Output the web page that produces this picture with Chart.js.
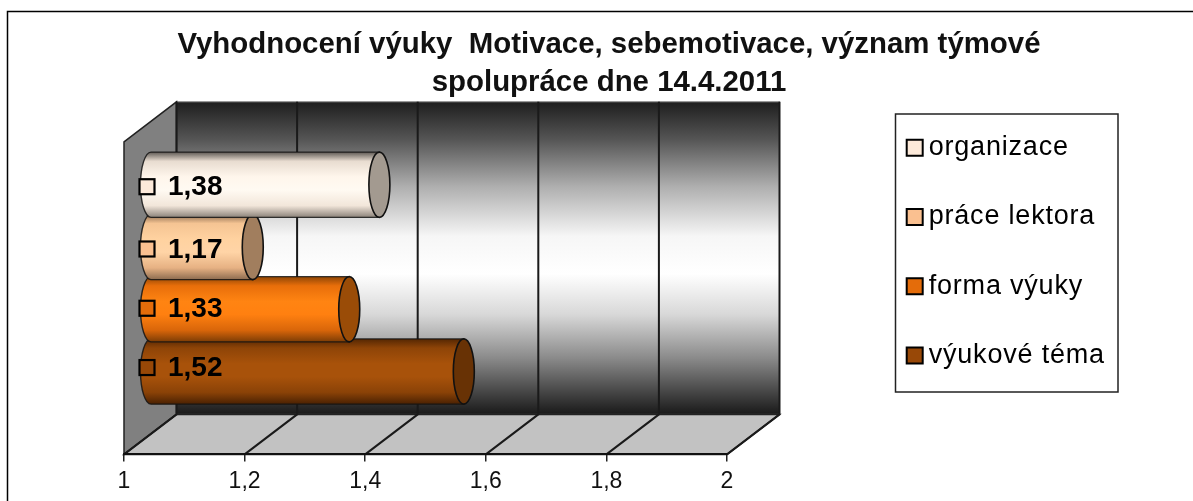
<!DOCTYPE html>
<html>
<head>
<meta charset="utf-8">
<style>
  html, body { margin: 0; padding: 0; background: #fff; }
  #wrap { width: 1193px; height: 501px; }
  #chart { filter: blur(0.45px); }
</style>
<script src="https://cdn.jsdelivr.net/npm/chart.js@4/dist/chart.umd.min.js"></script>
</head>
<body>
<div id="wrap"><canvas id="chart"></canvas></div>
<script>
const titleLines = ['Vyhodnocení výuky  Motivace, sebemotivace, význam týmové', 'spolupráce dne 14.4.2011'];
const categories = [''];
const seriesNames = ['organizace', 'práce lektora', 'forma výuky', 'výukové téma'];
const seriesValues = [1.38, 1.17, 1.33, 1.52];
const seriesColors = ['#fdeada', '#fac090', '#e46c0a', '#984807'];
const tickLabels = ['1', '1,2', '1,4', '1,6', '1,8', '2'];

// colours along the cylinder, top to bottom
const cylinderStops = [
  ['#5f5a55', '#e8dcd0', '#fff6ec', '#fffaf2', '#f2e6da', '#8c837a'],
  ['#8a6a4e', '#f5c493', '#ffd2a0', '#ffd4a6', '#e6b183', '#8d6c50'],
  ['#8f4606', '#e86e0a', '#ff8412', '#ff8010', '#d9660a', '#7c3c05'],
  ['#552703', '#8e4407', '#a8520a', '#a8520a', '#8a4207', '#4a2102']
];
const capColors = ['#a39a90', '#a17e5e', '#9a4c07', '#683205'];

// depth of the fake 3d box, and how far the bars sit inside it
const depthX = 52.5;
const depthY = -40;
const capRadius = 10.5;

function cylinderGradient(ctx, top, bottom, stops) {
  const g = ctx.createLinearGradient(0, top, 0, bottom);
  const at = [0, 0.14, 0.38, 0.58, 0.82, 1];
  stops.forEach((c, i) => g.addColorStop(at[i], c));
  return g;
}

// walls and floor, gridlines come from the x scale ticks
const boxPlugin = {
  id: 'box3d',
  afterLayout(chart) {
    // legend and title sit outside the plot, chartArea keeps the padding
    const lg = chart.legend;
    lg.left = 871.9; lg.right = 1118; lg.top = 91.9; lg.bottom = 480;
    chart.titleBlock.left = 25;
    chart.titleBlock.right = 1193;
    // the reference legend text is set a bit wider
    if (!lg.spacedDraw) {
      const draw = lg.draw;
      lg.spacedDraw = true;
      lg.draw = function (area) {
        chart.ctx.letterSpacing = '0.8px';
        draw.call(lg, area);
        chart.ctx.letterSpacing = '0px';
      };
    }
  },
  beforeDraw(chart) {
    const { ctx, chartArea: a } = chart;
    ctx.save();
    ctx.fillStyle = '#fff';
    ctx.fillRect(0, 0, chart.width, chart.height);

    // outer frame, only left and top are in the picture
    ctx.strokeStyle = '#000';
    ctx.lineWidth = 1.5;
    ctx.beginPath();
    ctx.moveTo(7.5, chart.height);
    ctx.lineTo(7.5, 11.5);
    ctx.lineTo(chart.width, 11.5);
    ctx.stroke();

    // legend box
    ctx.fillStyle = '#fff';
    ctx.lineWidth = 1.5;
    ctx.strokeStyle = '#222';
    ctx.fillRect(895.5, 114, 222.5, 278);
    ctx.strokeRect(895.5, 114, 222.5, 278);

    const backL = a.left + depthX, backR = a.right + depthX;
    const backT = a.top + depthY, backB = a.bottom + depthY;

    // back wall
    const wall = ctx.createLinearGradient(0, backT, 0, backB);
    wall.addColorStop(0, '#1e1e1e');
    wall.addColorStop(0.12, '#555555');
    wall.addColorStop(0.27, '#aeaeae');
    wall.addColorStop(0.43, '#f6f6f6');
    wall.addColorStop(0.55, '#ffffff');
    wall.addColorStop(0.68, '#d8d8d8');
    wall.addColorStop(0.82, '#8a8a8a');
    wall.addColorStop(1, '#191919');
    ctx.fillStyle = wall;
    ctx.fillRect(backL, backT, backR - backL, backB - backT);
    ctx.strokeStyle = '#777';
    ctx.lineWidth = 1;
    ctx.strokeRect(backL, backT, backR - backL, backB - backT);

    // left wall
    ctx.beginPath();
    ctx.moveTo(a.left, a.top);
    ctx.lineTo(backL, backT);
    ctx.lineTo(backL, backB);
    ctx.lineTo(a.left, a.bottom);
    ctx.closePath();
    ctx.fillStyle = '#808080';
    ctx.fill();
    ctx.strokeStyle = '#222';
    ctx.lineWidth = 1.5;
    ctx.stroke();

    // floor
    ctx.beginPath();
    ctx.moveTo(a.left, a.bottom);
    ctx.lineTo(a.right, a.bottom);
    ctx.lineTo(backR, backB);
    ctx.lineTo(backL, backB);
    ctx.closePath();
    ctx.fillStyle = '#c2c2c2';
    ctx.fill();
    ctx.strokeStyle = '#222';
    ctx.stroke();

    // gridlines on wall and floor
    const xs = chart.scales.x;
    ctx.strokeStyle = '#1a1a1a';
    ctx.lineWidth = 2;
    xs.ticks.forEach(t => {
      const px = xs.getPixelForValue(t.value);
      ctx.beginPath();
      ctx.moveTo(px, a.bottom);
      ctx.lineTo(px + depthX, backB);
      ctx.lineTo(px + depthX, backT);
      ctx.stroke();
    });
    ctx.restore();
  },
  // each bar is painted as a cylinder, from the element the bar controller placed
  beforeDatasetDraw(chart, args) {
    const { ctx } = chart;
    const i = args.index;
    const bar = args.meta.data[0];
    const dx = depthX / 2, dy = depthY / 2;
    const x0 = bar.base + dx, x1 = bar.x + dx;
    const top = bar.y - bar.height / 2 + dy, bottom = bar.y + bar.height / 2 + dy;
    const cy = (top + bottom) / 2, ry = (bottom - top) / 2;

    ctx.save();
    ctx.beginPath();
    ctx.moveTo(x1, top);
    ctx.lineTo(x0, top);
    ctx.ellipse(x0, cy, capRadius, ry, 0, -Math.PI / 2, Math.PI / 2, true);
    ctx.lineTo(x1, bottom);
    ctx.closePath();
    ctx.fillStyle = cylinderGradient(ctx, top, bottom, cylinderStops[i]);
    ctx.fill();
    ctx.strokeStyle = 'rgba(20,20,20,0.85)';
    ctx.lineWidth = 1.4;
    ctx.stroke();

    ctx.beginPath();
    ctx.ellipse(x1, cy, capRadius, ry, 0, 0, Math.PI * 2);
    ctx.fillStyle = capColors[i];
    ctx.fill();
    ctx.strokeStyle = '#111';
    ctx.lineWidth = 1.6;
    ctx.stroke();
    ctx.restore();
    return false;
  },
  // data labels with their little legend key
  afterDatasetsDraw(chart) {
    const { ctx } = chart;
    const nudge = [2, 2, -1, -4];
    const dx = depthX / 2, dy = depthY / 2;
    ctx.save();
    seriesValues.forEach((v, i) => {
      const bar = chart.getDatasetMeta(i).data[0];
      const x = bar.base + dx;
      const y = bar.y + dy + nudge[i];
      ctx.fillStyle = seriesColors[i];
      ctx.strokeStyle = '#000';
      ctx.lineWidth = 2.2;
      ctx.fillRect(x - 11.5, y - 7.5, 15, 15);
      ctx.strokeRect(x - 11.5, y - 7.5, 15, 15);
      ctx.fillStyle = '#000';
      ctx.font = 'bold 28px "Liberation Sans"';
      ctx.textBaseline = 'middle';
      ctx.textAlign = 'left';
      ctx.fillText(v.toFixed(2).replace('.', ','), x + 17, y + 1);
    });
    ctx.restore();
  }
};

new Chart(document.getElementById('chart'), {
  type: 'bar',
  plugins: [boxPlugin],
  data: {
    labels: categories,
    datasets: seriesNames.map((name, i) => ({
      label: name,
      data: [seriesValues[i]],
      base: 1,
      backgroundColor: seriesColors[i],
      borderColor: '#000',
      borderWidth: 2,
      clip: false
    }))
  },
  options: {
    indexAxis: 'y',
    responsive: true,
    maintainAspectRatio: false,
    animation: false,
    events: [],
    categoryPercentage: 0.797,
    barPercentage: 1.048,
    layout: { padding: { left: 124, right: 266, top: 26, bottom: 0 } },
    plugins: {
      title: {
        display: true,
        text: titleLines,
        color: '#111',
        font: { family: '"Liberation Sans"', size: 29.4, weight: 'bold', lineHeight: 1.29 },
        padding: { top: 0, bottom: 40 }
      },
      legend: {
        display: true,
        position: 'right',
        align: 'start',
        maxWidth: 200,
        labels: {
          color: '#000',
          font: { family: '"Liberation Sans"', size: 27 },
          usePointStyle: true,
          pointStyle: 'rect',
          boxWidth: 1,
          boxHeight: 16,
          padding: 42.3
        }
      },
      tooltip: { enabled: false }
    },
    scales: {
      x: {
        type: 'linear',
        min: 1,
        max: 2,
        afterBuildTicks(scale) {
          scale.ticks = tickLabels.map((l, i) => ({ value: 1 + i * 0.2 }));
        },
        ticks: {
          color: '#111',
          font: { family: '"Liberation Sans"', size: 23 },
          maxRotation: 0,
          autoSkip: false,
          padding: 6,
          callback: (v, i) => tickLabels[i]
        },
        grid: { drawOnChartArea: false, drawTicks: true, tickLength: 7, color: '#222', lineWidth: 1.5 },
        border: { display: true, color: '#111', width: 2 }
      },
      y: { display: false }
    }
  }
});
</script>
</body>
</html>
